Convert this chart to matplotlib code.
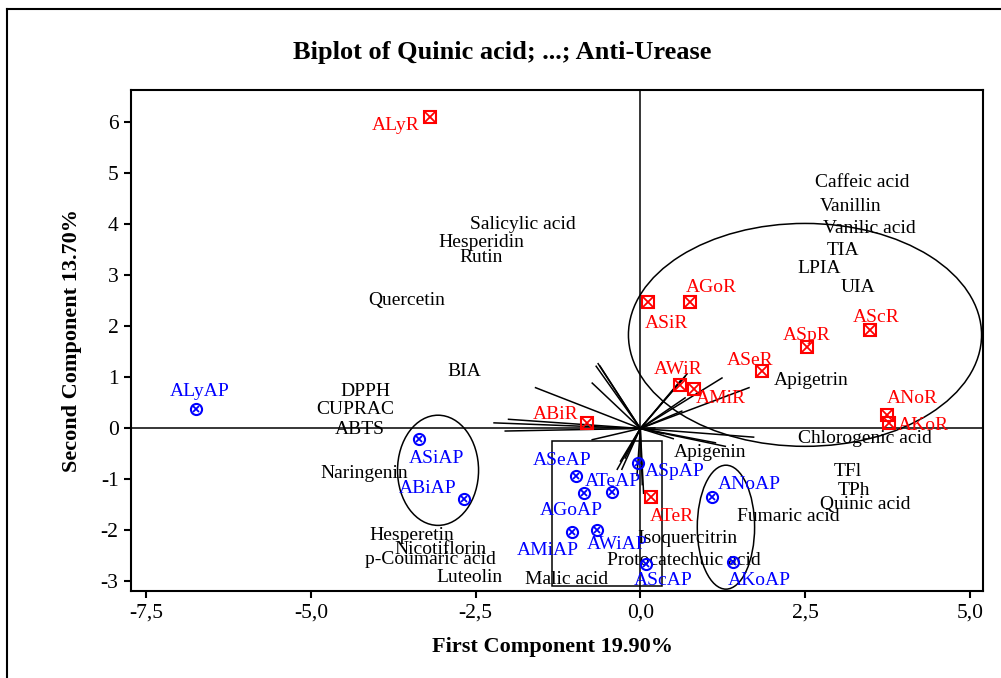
import matplotlib
matplotlib.use('Agg')
import matplotlib.pyplot as plt
from matplotlib.patches import Ellipse, Rectangle
from matplotlib.lines import Line2D

plt.rcParams['font.family'] = ['Liberation Serif', 'DejaVu Serif']

# scores of the R samples (first, second component)
r_names = ['ALyR', 'ASiR', 'AGoR', 'AWiR', 'AMiR', 'ASeR', 'ASpR', 'AScR',
           'ANoR', 'AKoR', 'ABiR', 'ATeR']
r_pc1 = [-3.19, 0.12, 0.76, 0.60, 0.81, 1.84, 2.53, 3.48, 3.75, 3.77, -0.81, 0.16]
r_pc2 = [6.10, 2.47, 2.47, 0.85, 0.78, 1.13, 1.59, 1.93, 0.27, 0.11, 0.11, -1.35]

# scores of the AP samples
ap_names = ['ALyAP', 'ASiAP', 'ABiAP', 'ASeAP', 'ATeAP', 'AGoAP', 'ASpAP',
            'AMiAP', 'AWiAP', 'AScAP', 'ANoAP', 'AKoAP']
ap_pc1 = [-6.75, -3.36, -2.67, -0.98, -0.43, -0.85, -0.03, -1.03, -0.66, 0.08, 1.09, 1.40]
ap_pc2 = [0.38, -0.20, -1.38, -0.93, -1.24, -1.27, -0.67, -2.03, -1.99, -2.65, -1.34, -2.62]

# variables: loading vector ends and where the label sits
var_names = ['Caffeic acid', 'Vanillin', 'Vanilic acid', 'TIA', 'LPIA', 'UIA',
             'Apigetrin', 'Chlorogenic acid', 'TFl', 'TPh', 'Quinic acid',
             'Fumaric acid', 'Isoquercitrin', 'Protocatechuic acid', 'Apigenin',
             'Malic acid', 'Luteolin', 'p-Coumaric acid', 'Nicotiflorin',
             'Hesperetin', 'Naringenin', 'ABTS', 'CUPRAC', 'DPPH', 'BIA',
             'Quercetin', 'Salicylic acid', 'Hesperidin', 'Rutin']
load_x = [0.71, 0.68, 0.63, 1.24, 1.65, 0.68, 0.63, 1.72, 0.22, 1.14, 0.35,
          0.50, 0.05, 0.03, 1.29, -0.05, -0.28, -0.30, -0.23, -0.35, -0.73,
          -2.05, -2.00, -2.22, -1.59, -0.73, -0.64, -0.67, -0.61]
load_y = [1.07, 1.02, 0.97, 0.99, 0.80, 0.60, 0.34, -0.17, 0.01, -0.28, -0.10,
          -0.20, -1.27, -1.10, -0.35, -0.92, -0.80, -0.64, -0.58, -0.80, -0.22,
          -0.05, 0.18, 0.11, 0.80, 0.89, 1.27, 1.22, 1.22]
lab_x = [3.37, 3.19, 3.47, 3.07, 2.72, 3.30, 2.59, 3.41, 3.15, 3.24, 3.41,
         2.25, 0.71, 0.66, 1.06, -1.12, -2.59, -3.19, -3.04, -3.47, -4.19,
         -4.26, -4.32, -4.17, -2.67, -3.55, -1.78, -2.41, -2.41]
lab_y = [4.82, 4.36, 3.93, 3.48, 3.14, 2.76, 0.95, -0.20, -0.85, -1.22, -1.50,
         -1.72, -2.16, -2.59, -0.47, -2.97, -2.92, -2.56, -2.37, -2.09, -0.88,
         -0.02, 0.37, 0.73, 1.11, 2.50, 4.00, 3.64, 3.35]

x_ticks = [-7.5, -5.0, -2.5, 0.0, 2.5, 5.0]
x_tick_labels = ['-7,5', '-5,0', '-2,5', '0,0', '2,5', '5,0']
y_ticks = [-3, -2, -1, 0, 1, 2, 3, 4, 5, 6]

# label offsets from the marker, pixels (right, down)
r_off = [(-34, 8), (18, 21), (21, -15), (-2, -16), (27, 10), (-11, -10),
         (0, -12), (7, -13), (25, -16), (35, 3), (-31, -8), (21, 19)]
ap_off = [(4, -18), (18, 20), (-37, -10), (-14, -15), (1, -10), (-13, 17),
          (36, 9), (-25, 18), (20, 15), (18, 17), (37, -12), (27, 18)]

RED = '#ff0000'
BLUE = '#0000ff'

fig = plt.figure(figsize=(10.01, 6.78), dpi=100)
ax = fig.add_axes([0.1309, 0.1288, 0.851, 0.738])
ax.set_xlim(-7.73, 5.20)
ax.set_ylim(-3.18, 6.63)

# reference lines
ax.axhline(0, color='black', lw=1.1, zorder=1)
ax.axvline(0, color='black', lw=1.1, zorder=1)

# loading vectors
for lx, ly in zip(load_x, load_y):
    ax.plot([0, lx], [0, ly], color='black', lw=1.1, zorder=2)

for name, tx, ty in zip(var_names, lab_x, lab_y):
    ax.text(tx, ty, name, ha='center', va='center', fontsize=14, color='black', zorder=3)

# group outlines
ax.add_patch(Ellipse((2.50, 1.835), 5.36, 4.37, fill=False, ec='black', lw=1.1))
ax.add_patch(Ellipse((-3.07, -0.82), 1.23, 2.16, fill=False, ec='black', lw=1.1))
ax.add_patch(Ellipse((1.30, -1.935), 0.87, 2.43, fill=False, ec='black', lw=1.1))
ax.add_patch(Rectangle((-1.34, -3.09), 1.67, 2.84, fill=False, ec='black', lw=1.1))

# R samples: square with cross
ax.plot(r_pc1, r_pc2, ls='none', marker='s', ms=8, mfc='none', mec=RED, mew=1.5, zorder=4)
ax.plot(r_pc1, r_pc2, ls='none', marker='x', ms=7, mec=RED, mew=1.3, zorder=4)
for name, x, y, (dx, dy) in zip(r_names, r_pc1, r_pc2, r_off):
    ax.annotate(name, (x, y), xytext=(dx * 0.72, -dy * 0.72), textcoords='offset points',
                ha='center', va='center', fontsize=14, color=RED, zorder=5)

# AP samples: circle with cross
ax.plot(ap_pc1, ap_pc2, ls='none', marker='o', ms=8, mfc='none', mec=BLUE, mew=1.5, zorder=4)
ax.plot(ap_pc1, ap_pc2, ls='none', marker='x', ms=5, mec=BLUE, mew=1.3, zorder=4)
for name, x, y, (dx, dy) in zip(ap_names, ap_pc1, ap_pc2, ap_off):
    ax.annotate(name, (x, y), xytext=(dx * 0.72, -dy * 0.72), textcoords='offset points',
                ha='center', va='center', fontsize=14, color=BLUE, zorder=5)

ax.set_xticks(x_ticks)
ax.set_xticklabels(x_tick_labels)
ax.set_yticks(y_ticks)
ax.set_yticklabels([str(v) for v in y_ticks])
ax.tick_params(direction='out', length=5, width=1.5, labelsize=15.5, pad=4)
for s in ax.spines.values():
    s.set_linewidth(1.5)

fig.text(0.5015, 0.923, 'Biplot of Quinic acid; ...; Anti-Urease', ha='center', va='center',
         fontsize=19, fontweight='bold')
fig.text(0.5524, 0.0457, 'First Component 19.90%', ha='center', va='center',
         fontsize=16, fontweight='bold')
fig.text(0.0719, 0.4985, 'Second Component 13.70%', ha='center', va='center',
         fontsize=16, fontweight='bold', rotation=90)

# outer frame (only left and top edges visible)
fig.add_artist(Line2D([7 / 1001, 7 / 1001], [0, 669 / 678], color='black', lw=1.5))
fig.add_artist(Line2D([7 / 1001, 1], [669 / 678, 669 / 678], color='black', lw=1.5))

fig.savefig('out.png', dpi=100)
